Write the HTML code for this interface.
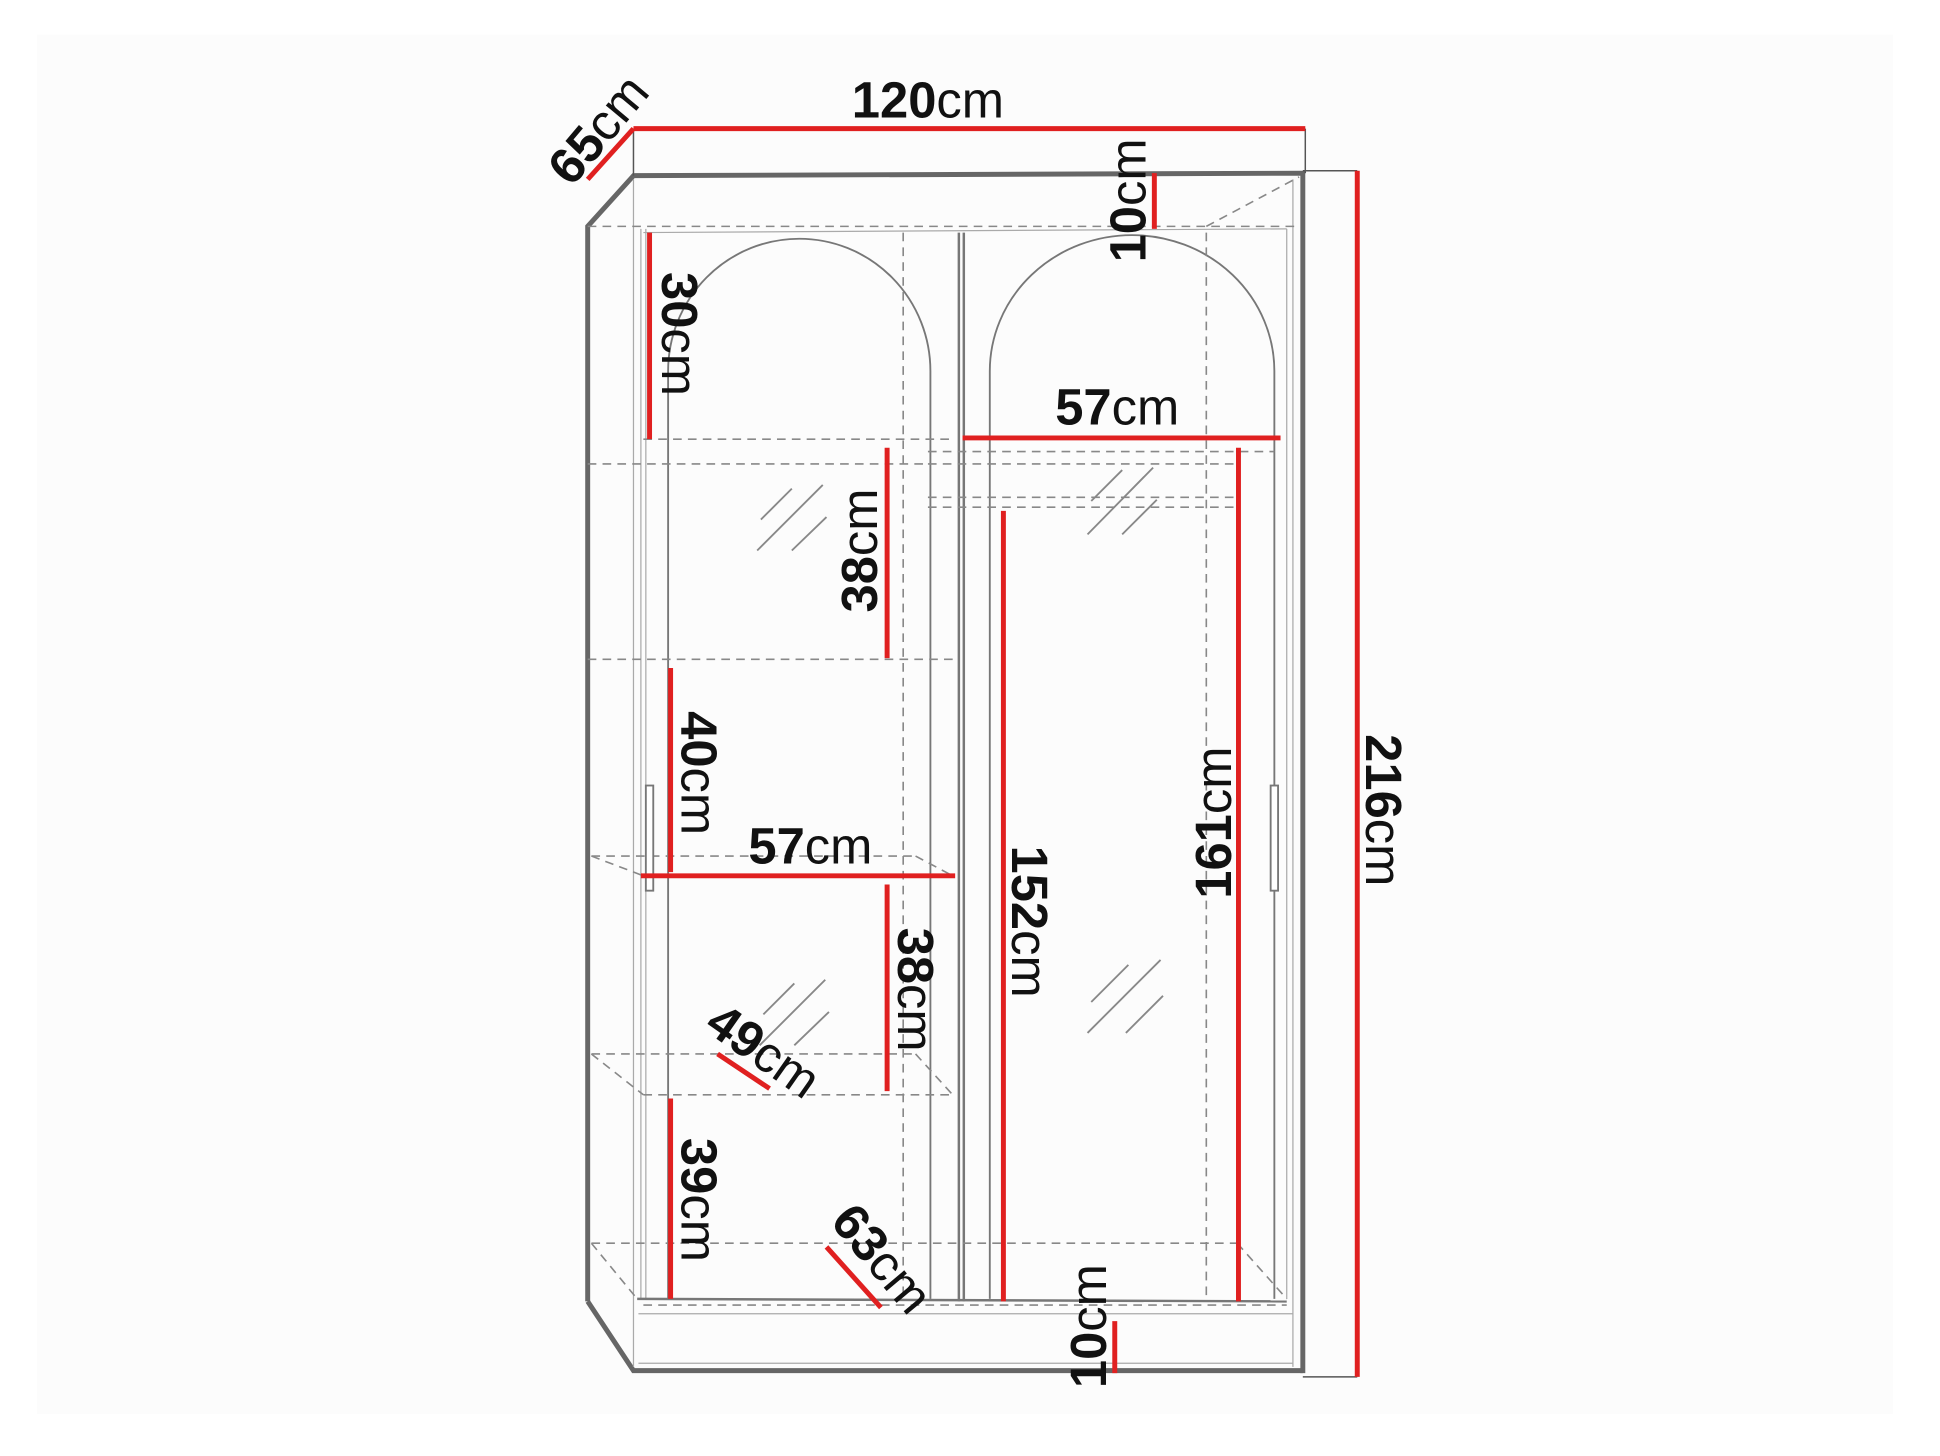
<!DOCTYPE html>
<html><head><meta charset="utf-8"><style>
html,body{margin:0;padding:0;background:#fff;}
svg{display:block;}
text{font-family:"Liberation Sans",sans-serif;font-size:41px;fill:#111;}
.b{font-weight:bold;}
</style></head><body>
<svg width="1940" height="1456" viewBox="0 0 1568 1177" preserveAspectRatio="none" xmlns="http://www.w3.org/2000/svg">
<rect x="0" y="0" width="1568" height="1177" fill="#fff"/>
<rect x="30" y="28" width="1500" height="1115" fill="#fcfcfc"/>
<g fill="none" stroke="#666" stroke-width="4">
<polyline points="475,1052 475,183 512,142 1053,140 1053,1110"/>
<polyline points="475,1052 512,1108 1053,1108"/>
</g>
<g fill="none" stroke="#555" stroke-width="1.2">
<line x1="512" y1="104" x2="512" y2="142"/>
<line x1="1055" y1="104" x2="1055" y2="140"/>
<line x1="1053" y1="138" x2="1097" y2="138"/>
<line x1="1053" y1="1113" x2="1097" y2="1113"/>
</g>
<g fill="none" stroke="#aaa" stroke-width="1">
<line x1="512" y1="145" x2="512" y2="1105"/>
<line x1="518" y1="185" x2="518" y2="1050"/>
<line x1="522" y1="185" x2="522" y2="1050"/>
<line x1="1040" y1="185" x2="1040" y2="1050"/>
<line x1="1045" y1="145" x2="1045" y2="1105"/>
<line x1="516" y1="1062" x2="1045" y2="1062"/>
<line x1="516" y1="1102" x2="1045" y2="1102"/>
<line x1="520" y1="188" x2="1040" y2="185"/>
</g>
<g fill="none" stroke="#777" stroke-width="2">
<line x1="775" y1="188" x2="775" y2="1052"/>
<line x1="779" y1="188" x2="779" y2="1052"/>
<line x1="515" y1="1050" x2="1040" y2="1052"/>
</g>
<g fill="none" stroke="#777" stroke-width="1.5">
<path d="M540,1050 V300 A106,107 0 0 1 752,300 V1050"/>
<path d="M800,1050 V300 A115,110 0 0 1 1030,300 V1050"/>
</g>
<g fill="none" stroke="#888" stroke-width="1.3" stroke-dasharray="7,5">
<line x1="475" y1="183" x2="1050" y2="183"/>
<line x1="975" y1="183" x2="1050" y2="143"/>
<line x1="730" y1="188" x2="730" y2="1050"/>
<line x1="975" y1="188" x2="975" y2="1050"/>
<line x1="520" y1="355" x2="770" y2="355"/>
<line x1="475" y1="375" x2="750" y2="375"/>
<line x1="475" y1="533" x2="770" y2="533"/>
<line x1="478" y1="692" x2="740" y2="692"/>
<line x1="478" y1="692" x2="520" y2="708"/>
<line x1="740" y1="692" x2="770" y2="708"/>
<line x1="478" y1="852" x2="740" y2="852"/>
<line x1="478" y1="852" x2="520" y2="885"/>
<line x1="520" y1="885" x2="770" y2="885"/>
<line x1="740" y1="852" x2="770" y2="885"/>
<line x1="478" y1="1005" x2="1000" y2="1005"/>
<line x1="478" y1="1005" x2="515" y2="1050"/>
<line x1="1000" y1="1005" x2="1040" y2="1050"/>
<line x1="750" y1="365" x2="1030" y2="365"/>
<line x1="750" y1="375" x2="1000" y2="375"/>
<line x1="750" y1="402" x2="1000" y2="402"/>
<line x1="750" y1="410" x2="1000" y2="410"/>
<line x1="520" y1="1055" x2="1040" y2="1055"/>
</g>
<g fill="#fff" stroke="#777" stroke-width="1.5">
<rect x="522" y="635" width="6" height="85"/>
<rect x="1027" y="635" width="6" height="85"/>
</g>
<g stroke="#888" stroke-width="1.5">
<line x1="615" y1="420" x2="640" y2="395"/><line x1="612" y1="445" x2="665" y2="392"/><line x1="640" y1="445" x2="668" y2="418"/>
<line x1="617" y1="820" x2="642" y2="795"/><line x1="614" y1="845" x2="667" y2="792"/><line x1="642" y1="845" x2="670" y2="818"/>
<line x1="882" y1="405" x2="907" y2="380"/><line x1="879" y1="432" x2="932" y2="378"/><line x1="907" y1="432" x2="935" y2="404"/>
<line x1="882" y1="810" x2="912" y2="780"/><line x1="879" y1="835" x2="938" y2="776"/><line x1="910" y1="835" x2="940" y2="805"/>
</g>
<g stroke="#e02020" stroke-width="4" fill="none">
<line x1="475" y1="145" x2="512" y2="104"/>
<line x1="512" y1="104" x2="1055" y2="104"/>
<line x1="1097" y1="138" x2="1097" y2="1113"/>
<line x1="933" y1="140" x2="933" y2="185"/>
<line x1="525" y1="188" x2="525" y2="355"/>
<line x1="778" y1="354" x2="1035" y2="354"/>
<line x1="717" y1="362" x2="717" y2="532"/>
<line x1="542" y1="540" x2="542" y2="705"/>
<line x1="518" y1="708" x2="772" y2="708"/>
<line x1="717" y1="715" x2="717" y2="882"/>
<line x1="580" y1="852" x2="622" y2="880"/>
<line x1="542" y1="888" x2="542" y2="1050"/>
<line x1="668" y1="1008" x2="712" y2="1057"/>
<line x1="811" y1="413" x2="811" y2="1052"/>
<line x1="1001" y1="362" x2="1001" y2="1052"/>
<line x1="901" y1="1068" x2="901" y2="1110"/>
</g>
<text x="750" y="95" text-anchor="middle"><tspan class="b">120</tspan>cm</text>
<text transform="translate(462,152) rotate(-50)"><tspan class="b">65</tspan>cm</text>
<text transform="translate(926,162) rotate(-90)" text-anchor="middle"><tspan class="b">10</tspan>cm</text>
<text transform="translate(535,270) rotate(90)" text-anchor="middle"><tspan class="b">30</tspan>cm</text>
<text x="903" y="343" text-anchor="middle"><tspan class="b">57</tspan>cm</text>
<text transform="translate(709,445) rotate(-90)" text-anchor="middle"><tspan class="b">38</tspan>cm</text>
<text transform="translate(551,625) rotate(90)" text-anchor="middle"><tspan class="b">40</tspan>cm</text>
<text x="655" y="698" text-anchor="middle"><tspan class="b">57</tspan>cm</text>
<text transform="translate(726,800) rotate(90)" text-anchor="middle"><tspan class="b">38</tspan>cm</text>
<text transform="translate(568,832) rotate(35)"><tspan class="b">49</tspan>cm</text>
<text transform="translate(551,970) rotate(90)" text-anchor="middle"><tspan class="b">39</tspan>cm</text>
<text transform="translate(670,988) rotate(50)"><tspan class="b">63</tspan>cm</text>
<text transform="translate(818,745) rotate(90)" text-anchor="middle"><tspan class="b">152</tspan>cm</text>
<text transform="translate(995,665) rotate(-90)" text-anchor="middle"><tspan class="b">161</tspan>cm</text>
<text transform="translate(1104,655) rotate(90)" text-anchor="middle"><tspan class="b">216</tspan>cm</text>
<text transform="translate(894,1072) rotate(-90)" text-anchor="middle"><tspan class="b">10</tspan>cm</text>
</svg>
</body></html>
